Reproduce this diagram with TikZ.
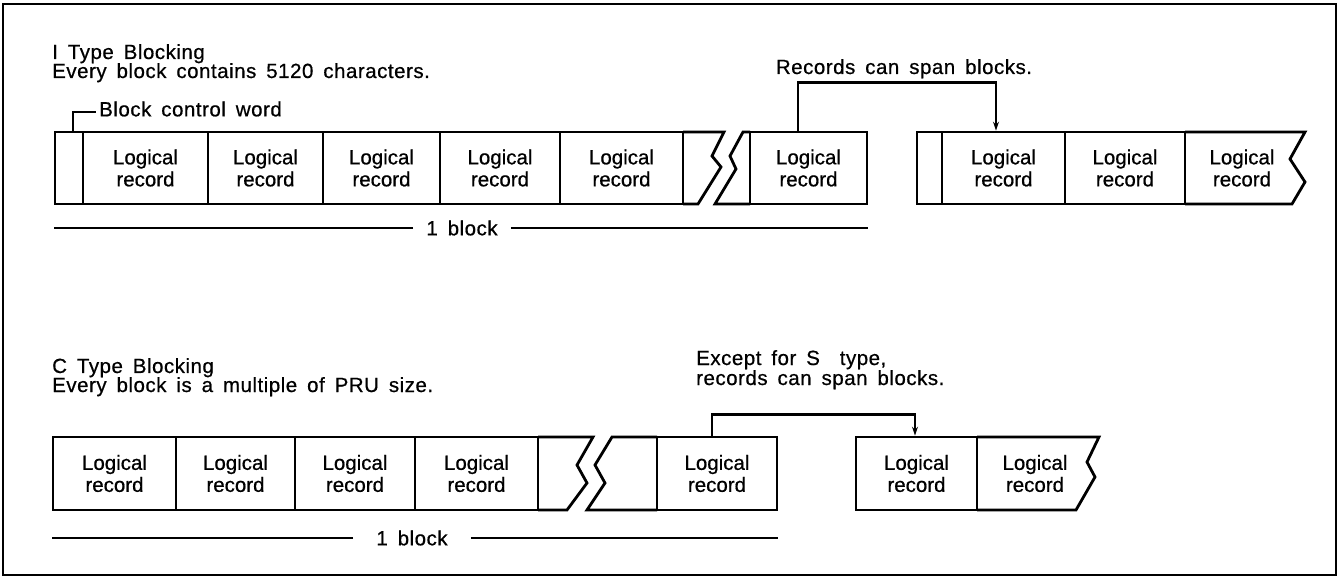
\documentclass[tikz,border=0pt]{standalone}
\usepackage{fontspec}
\setmainfont{Liberation Sans}[FakeBold=0.6]
\newfontfamily\lblfont{Liberation Sans}[LetterSpace=2.5,WordSpace=1.6,FakeBold=0.6]
\usetikzlibrary{arrows.meta}

\begin{document}
\begin{tikzpicture}[x=1pt,y=-1pt,
  rec/.style={draw, line width=2.8pt, inner sep=0pt, align=center,
              font=\fontsize{20.5}{22}\selectfont},
  toprow/.style={rec, minimum height=72pt},
  botrow/.style={rec, minimum height=73pt},
  piece/.style={draw, line width=2.8pt, line join=miter},
  txt/.style={inner sep=0pt, align=center, font=\fontsize{20.5}{22}\selectfont},
  lbl/.style={inner sep=0pt, align=left, font=\lblfont\fontsize{20.5}{20}\selectfont},
  rule/.style={line width=2.5pt},
  link/.style={line width=2.5pt},
  tip/.style={-{Stealth[length=9pt,width=6pt]}}
]
\useasboundingbox (0,0) rectangle (1339,577);
\draw[line width=2pt] (3,4) rectangle (1336,575);

% ---------- I type blocking ----------
\node[lbl, anchor=base west] (ititle) at (52,59) {I Type Blocking};
\node[lbl, anchor=base west] (idesc) at (52,78) {Every block contains 5120 characters.};

% first block
\node[toprow, minimum width=28pt]  (c1) at (69,168) {};
\node[toprow, minimum width=125pt] (t1) at (145.5,168) {Logical\\record};
\node[toprow, minimum width=115pt] (t2) at (265.5,168) {Logical\\record};
\node[toprow, minimum width=117pt] (t3) at (381.5,168) {Logical\\record};
\node[toprow, minimum width=120pt] (t4) at (500,168) {Logical\\record};
\node[toprow, minimum width=123pt] (t5) at (621.5,168) {Logical\\record};
% broken end of the first block and resumed part
\draw[piece] (683,132) -- (724,132) -- (712,156) -- (721,167) -- (698,204) -- (683,204);
\draw[piece] (750,132) -- (743,132) -- (730,156) -- (736,169) -- (715,204) -- (750,204);
\node[toprow, minimum width=117pt] (t6) at (808.5,168) {Logical\\record};

% next block
\node[toprow, minimum width=25pt]  (c2) at (929.5,168) {};
\node[toprow, minimum width=123pt] (t7) at (1003.5,168) {Logical\\record};
\node[toprow, minimum width=120pt] (t8) at (1125,168) {Logical\\record};
\draw[piece] (1185,132) -- (1305,132) -- (1290,159) -- (1305,182) -- (1292,204) -- (1185,204);
\node[txt] (t9) at (1242,168) {Logical\\record};

% block control word callout
\node[lbl, anchor=west, inner xsep=3pt] (bcw) at (96,109) {Block control word};
\draw[link] ([xshift=4pt]c1.north) |- ([yshift=-3pt]bcw.west);

% spanning record
\node[lbl, anchor=base] (ispan) at (904,74) {Records can span blocks.};
\draw[link, tip] ([xshift=-10.5pt]t6.north) -- ++(0,-48) -| ([xshift=-7.5pt]t7.north);

% block extent
\node[lbl, inner xsep=13pt] (ob1) at (462,228) {1 block};
\draw[rule] (ob1.west) -- (ob1.west -| c1.west);
\draw[rule] (ob1.east) -- (ob1.east -| t6.east);

% ---------- C type blocking ----------
\node[lbl, anchor=base west] (ctitle) at (52,373) {C Type Blocking};
\node[lbl, anchor=base west] (cdesc) at (52,392) {Every block is a multiple of PRU size.};

\node[botrow, minimum width=123pt] (b1) at (114.5,473.5) {Logical\\record};
\node[botrow, minimum width=119pt] (b2) at (235.5,473.5) {Logical\\record};
\node[botrow, minimum width=120pt] (b3) at (355,473.5) {Logical\\record};
\node[botrow, minimum width=123pt] (b4) at (476.5,473.5) {Logical\\record};
\draw[piece] (538,437) -- (593,437) -- (577,465) -- (587,483) -- (567,510) -- (538,510);
\draw[piece] (657,437) -- (612,437) -- (595,465) -- (605,483) -- (587,510) -- (657,510);
\node[botrow, minimum width=120pt] (b5) at (717,473.5) {Logical\\record};

\node[botrow, minimum width=121pt] (b6) at (916.5,473.5) {Logical\\record};
\draw[piece] (977,437) -- (1099,437) -- (1087,462) -- (1095,477) -- (1076,510) -- (977,510);
\node[txt] (b7) at (1035,473.5) {Logical\\record};

\node[lbl, anchor=base west] (cspan) at (696,385) {Except for S\ \ type,\\records can span blocks.};
\draw[link, tip] ([xshift=-5pt]b5.north) -- ++(0,-21) -| ([xshift=-1.5pt]b6.north);

\node[lbl, inner xsep=23pt] (ob2) at (412,538) {1 block};
\draw[rule] (ob2.west) -- (ob2.west -| b1.west);
\draw[rule] (ob2.east) -- (ob2.east -| b5.east);
\end{tikzpicture}
\end{document}
